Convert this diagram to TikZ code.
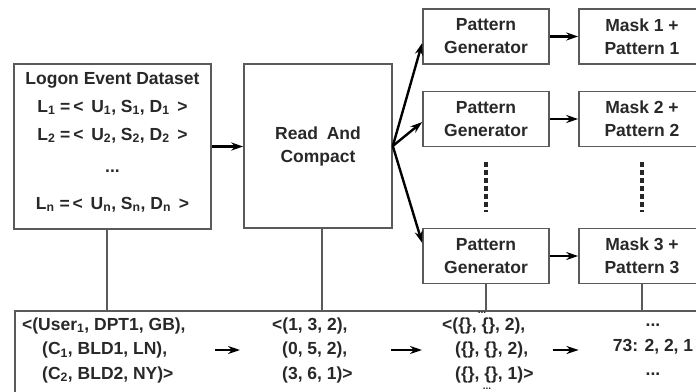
\documentclass[tikz,border=0pt]{standalone}
\usepackage{fontspec}
\setmainfont{Liberation Sans}
\usetikzlibrary{positioning, arrows.meta, calc}
\definecolor{BoxGray}{RGB}{90,90,90}
\definecolor{InkGray}{RGB}{40,40,40}

\begin{document}
\begin{tikzpicture}[
  x=1pt, y=-1pt,
  font=\fontsize{17.5}{23}\selectfont\bfseries,
  every node/.style={align=center, text=InkGray},
  box/.style={rectangle, draw=BoxGray, line width=1.6pt, inner sep=2pt},
  genbox/.style={box, minimum width=126pt, minimum height=55pt},
  arr/.style={-{Stealth[length=12pt, width=8pt]}, line width=2.4pt, draw=black},
  link/.style={line width=1.6pt, draw=BoxGray},
  vdots/.style={line width=3.2pt, draw=black!85, dash pattern=on 5pt off 3pt},
  tuples/.style={align=left, inner sep=0pt, font=\fontsize{17.5}{24.5}\selectfont\bfseries},
  smalldots/.style={font=\fontsize{10}{10}\selectfont\bfseries, inner sep=0pt}
]
\clip (0,0) rectangle (696,391);

% ---------------- input and compaction ----------------
\node[box, minimum width=197pt, minimum height=165pt] (data) at (112.5,146.5) {};
\node[inner sep=0pt] (datatext) at (112.5,142)
  {Logon Event Dataset\\[5pt]
   L\textsubscript{1} =\,<\, U\textsubscript{1}, S\textsubscript{1}, D\textsubscript{1} \,>\\[5pt]
   L\textsubscript{2} =\,<\, U\textsubscript{2}, S\textsubscript{2}, D\textsubscript{2} \,>\\[9pt]
   ...\\[14pt]
   L\textsubscript{n} =\,<\, U\textsubscript{n}, S\textsubscript{n}, D\textsubscript{n} \,>};
\node[box, minimum width=148pt, minimum height=164pt] (rc) at (318,146)
  {Read\enspace And\\Compact};

% ---------------- generators and masks ----------------
\node[genbox] (pg1) at (486,36.5) {Pattern\\Generator};
\node[genbox] (pg2) at (486,119) {Pattern\\Generator};
\node[genbox] (pg3) at (486,256) {Pattern\\Generator};
\node[genbox] (mk1) at (642,36.5) {Mask 1 +\\Pattern 1};
\node[genbox] (mk2) at (642,119) {Mask 2 +\\Pattern 2};
\node[genbox] (mk3) at (642,256) {Mask 3 +\\Pattern 3};

% ---------------- example row ----------------
\node[box, anchor=north west, minimum width=700pt, minimum height=100pt] (bot) at (14,310) {};
\node[tuples, anchor=west] (col1) at (22,350)
  {<(User\textsubscript{1}, DPT1, GB),\\
   \hspace*{20pt}(C\textsubscript{1}, BLD1, LN),\\
   \hspace*{20pt}(C\textsubscript{2}, BLD2, NY)>};
\node[tuples, anchor=west] (col2) at (272,350)
  {<(1, 3, 2),\\
   \hspace*{10pt}(0, 5, 2),\\
   \hspace*{10pt}(3, 6, 1)>};
\node[tuples, anchor=west] (col3) at (442,350)
  {<(\{\}, \{\}, 2),\\
   \hspace*{13pt}(\{\}, \{\}, 2),\\
   \hspace*{13pt}(\{\}, \{\}, 1)>};
\node[tuples, align=center] (col4) at (653,350) {...\\73: 2, 2, 1\\...};
\node[smalldots] (dotup) at (482,313) {...};
\node[smalldots] (dotdn) at (487,388.5) {...};

% ---------------- connectors ----------------
\draw[arr] (data.east) -- (data.east -| rc.west);
\draw[arr] (rc.east) -- ($(pg1.west)+(0,6.5)$);
\draw[arr] (rc.east) -- ($(pg2.west)+(0,3)$);
\draw[arr] (rc.east) -- ($(pg3.west)+(0,-13)$);
\foreach \i in {1,2,3}
  \draw[arr] (pg\i) -- (mk\i);
\draw[vdots] ($(pg2.south)+(0,15)$) -- ($(pg3.north)+(0,-16)$);
\draw[vdots] ($(mk2.south)+(0,15)$) -- ($(mk3.north)+(0,-16)$);

\coordinate (dtap) at ($(data.south)+(-5.5,0)$);
\coordinate (rtap) at ($(rc.south)+(4,0)$);
\draw[link] (dtap) -- (dtap |- bot.north);
\draw[link] (rtap) -- (rtap |- bot.north);
\draw[link] (pg3.south) -- (pg3.south |- bot.north);
\draw[link] (mk3.south) -- (mk3.south |- bot.north);

\draw[arr, shorten <=29pt, shorten >=32pt] (col1.east) -- (col1.east -| col2.west);
\draw[arr, shorten <=38pt, shorten >=20pt] (col2.east) -- (col2.east -| col3.west);
\draw[arr, shorten <=19pt, shorten >=34pt] (col3.east) -- (col3.east -| col4.west);
\end{tikzpicture}
\end{document}
